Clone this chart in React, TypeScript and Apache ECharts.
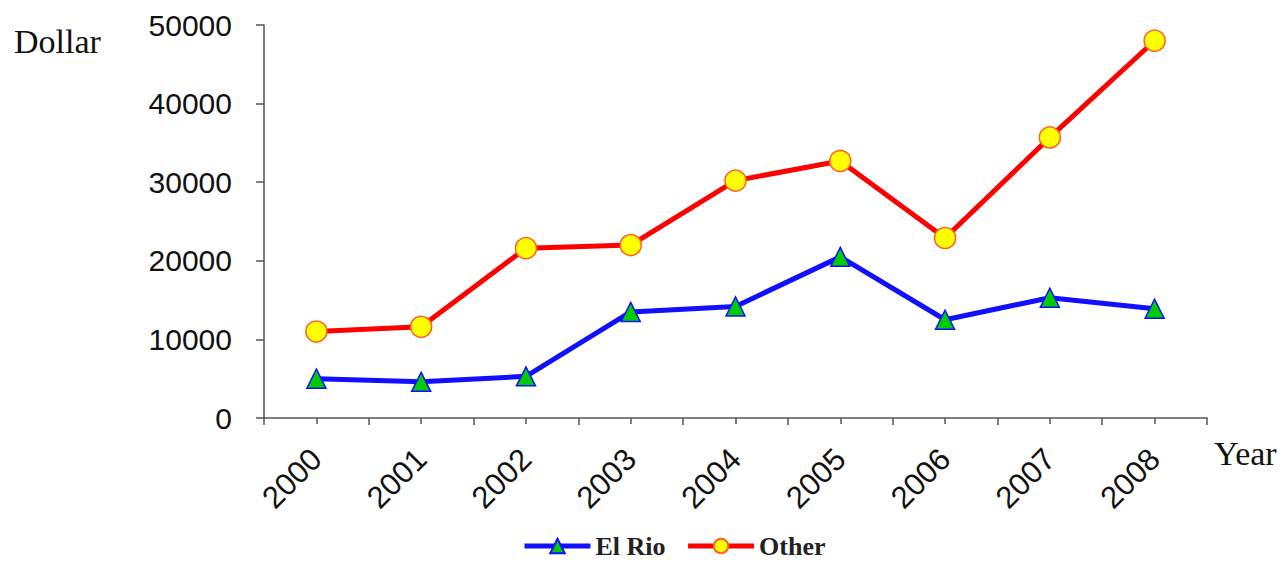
import React, { useEffect, useRef } from "react";
import * as echarts from "echarts";

const years = ["2000", "2001", "2002", "2003", "2004", "2005", "2006", "2007", "2008"];
const elRio = [5000, 4600, 5300, 13500, 14200, 20500, 12500, 15300, 13900];
const other = [11000, 11600, 21600, 22000, 30200, 32700, 22900, 35700, 48000];
const yTicks = { min: 0, max: 50000, interval: 10000 };

export default function App() {
  const ref = useRef<HTMLDivElement>(null);
  useEffect(() => {
    const chart = echarts.init(ref.current!, null, { renderer: "svg" });
    chart.setOption({
      animation: false,
      backgroundColor: "#ffffff",
      grid: { left: 264, right: 81, top: 25, bottom: 148, containLabel: false },
      legend: {
        bottom: 2,
        left: 517,
        itemWidth: 66,
        itemHeight: 18,
        itemGap: 20,
        lineStyle: { width: 5 },
        textStyle: { fontFamily: "Liberation Serif", fontSize: 26, fontWeight: "bold", color: "#222" },
        data: ["El Rio", "Other"],
      },
      xAxis: [
        {
          type: "category",
          data: years,
          boundaryGap: true,
          axisLine: { lineStyle: { color: "#555", width: 1.5 } },
          axisTick: { show: true, length: 7, lineStyle: { color: "#555", width: 1.5 } },
          axisLabel: {
            rotate: 45,
            fontFamily: "Liberation Sans",
            fontSize: 31,
            color: "#111",
            margin: 36,
          },
          splitLine: { show: false },
        },
        {
          type: "category",
          data: years,
          position: "bottom",
          boundaryGap: true,
          axisLine: { show: false },
          axisTick: { show: true, alignWithLabel: true, length: 6, lineStyle: { color: "#555", width: 1.5 } },
          axisLabel: { show: false },
          splitLine: { show: false },
        },
      ],
      yAxis: {
        type: "value",
        min: yTicks.min,
        max: yTicks.max,
        interval: yTicks.interval,
        axisLine: { show: true, lineStyle: { color: "#555", width: 1.5 } },
        axisTick: { show: true, length: 8, lineStyle: { color: "#555", width: 1.5 } },
        axisLabel: {
          fontFamily: "Liberation Sans",
          fontSize: 30,
          color: "#111",
          margin: 32,
          formatter: (v: number) => String(v),
        },
        splitLine: { show: false },
      },
      graphic: [
        {
          type: "text",
          left: 14,
          top: 24,
          style: { text: "Dollar", font: "34px 'Liberation Serif'", fill: "#111" },
        },
        {
          type: "text",
          left: 1214,
          top: 436,
          style: { text: "Year", font: "34px 'Liberation Serif'", fill: "#111" },
        },
      ],
      series: [
        {
          name: "El Rio",
          type: "line",
          data: elRio,
          symbol: "triangle",
          symbolSize: 19,
          lineStyle: { color: "#1010ff", width: 5 },
          itemStyle: { color: "#00cc00", borderColor: "#1010ff", borderWidth: 1.5 },
          z: 3,
        },
        {
          name: "Other",
          type: "line",
          data: other,
          symbol: "circle",
          symbolSize: 21,
          lineStyle: { color: "#ff0000", width: 5 },
          itemStyle: { color: "#ffff00", borderColor: "#ff6020", borderWidth: 1.5 },
          z: 3,
        },
      ],
    });
    return () => chart.dispose();
  }, []);
  return (
    <div
      ref={ref}
      style={{ position: "fixed", left: 0, top: 0, width: 1288, height: 566 }}
    />
  );
}
